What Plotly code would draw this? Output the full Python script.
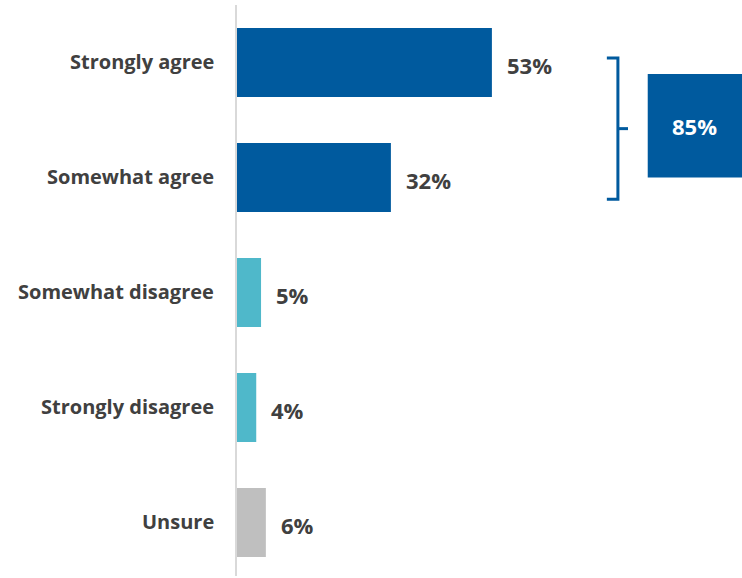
import plotly.graph_objects as go

categories = ["Strongly agree", "Somewhat agree", "Somewhat disagree", "Strongly disagree", "Unsure"]
values = [53, 32, 5, 4, 6]
colors = ["#005A9E", "#005A9E", "#4FB8CA", "#4FB8CA", "#BFBFBF"]
agree_total = values[0] + values[1]

ypos = list(range(len(categories)))
font_family = "'Open Sans', sans-serif"
txt_color = "#404040"

fig = go.Figure()
fig.add_trace(go.Bar(
    x=values, y=ypos, orientation="h",
    marker=dict(color=colors, line=dict(width=0)),
    width=0.6, hoverinfo="skip",
))

annotations = []
for yv, v in zip(ypos, values):
    annotations.append(dict(x=v, y=yv, xref="x", yref="y", text=f"<b>{v}%</b>",
                            showarrow=False, xanchor="left", xshift=13, yshift=-2,
                            font=dict(size=22, color=txt_color, family=font_family)))
for yv, c in zip(ypos, categories):
    annotations.append(dict(x=0, y=yv, xref="paper", yref="y", text=f"<b>{c}</b>",
                            showarrow=False, xanchor="right", xshift=-21, yshift=1,
                            font=dict(size=20, color=txt_color, family=font_family)))

# bracket grouping the two agree bars
bx = 79.2
shapes = [
    dict(type="path", xref="x", yref="y",
         path=f"M 76.9 -0.04 L {bx} -0.04 L {bx} 1.19 L 76.9 1.19",
         line=dict(color="#005A9E", width=3)),
    dict(type="line", xref="x", yref="y", x0=bx, x1=81.3, y0=0.575, y1=0.575,
         line=dict(color="#005A9E", width=3)),
    dict(type="rect", xref="x", yref="y", x0=85.4, x1=105, y0=0.1, y1=1.0,
         fillcolor="#005A9E", line=dict(width=0)),
]
annotations.append(dict(x=95.2, y=0.55, xref="x", yref="y", text=f"<b>{agree_total}%</b>",
                        showarrow=False, font=dict(size=22, color="white", family=font_family)))

fig.update_layout(
    width=742, height=578,
    margin=dict(l=237, r=0, t=5, b=2),
    paper_bgcolor="white", plot_bgcolor="white",
    showlegend=False,
    xaxis=dict(range=[0, 105], showgrid=False, zeroline=False, showticklabels=False,
               showline=False, fixedrange=True),
    yaxis=dict(range=[4.465, -0.5], showgrid=False, zeroline=False, showticklabels=False,
               showline=True, linecolor="#D9D9D9", linewidth=2, fixedrange=True),
    annotations=annotations, shapes=shapes,
    bargap=0.4,
)
fig.write_html("out.html", config={"displayModeBar": False},
               post_script="document.body.style.margin='0';document.body.style.overflow='hidden';")
